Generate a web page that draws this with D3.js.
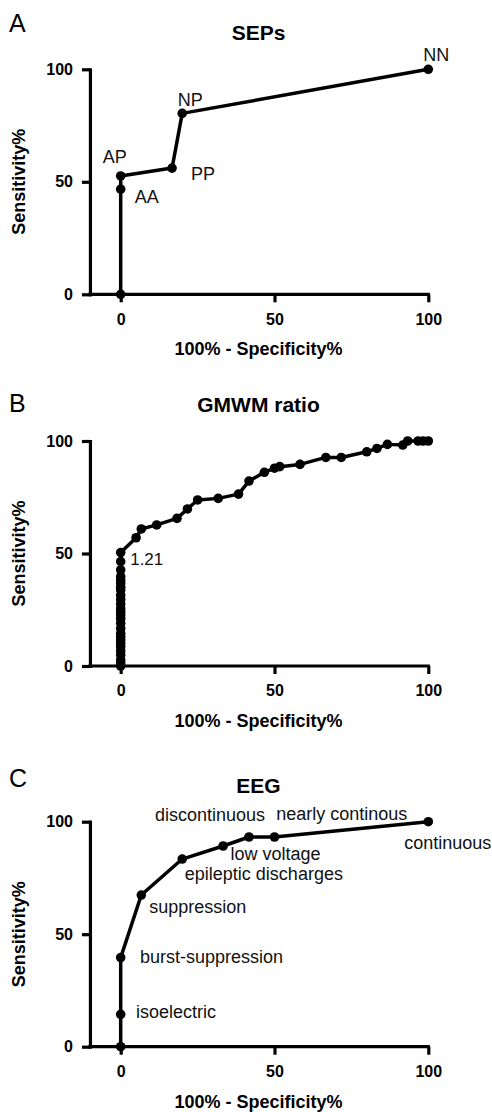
<!DOCTYPE html>
<html>
<head>
<meta charset="utf-8">
<script src="https://cdn.jsdelivr.net/npm/d3@7"></script>
<style>
  html, body { margin: 0; padding: 0; background: #fff; }
  svg { display: block; font-family: "Liberation Sans", Arial, Helvetica, sans-serif; }
</style>
</head>
<body>
<svg id="chart" width="492" height="1112"></svg>
<script>
// ---------- data ----------
const xTicks = [0, 50, 100];
const yTicks = [0, 50, 100];

const sepsX = [0, 0, 0, 16.7, 20, 100];
const sepsY = [0, 46.7, 52.6, 56.1, 80.4, 100];
const sepsLabels = ["", "AA", "AP", "PP", "NP", "NN"];

const gmwmX = [0, 0, 0, 0, 0, 0, 0, 0, 0, 0, 0, 0, 0, 0, 0, 0, 0, 0, 0, 0, 0, 0, 0, 0, 0, 0, 0,
  5.0, 6.7, 11.7, 18.3, 21.7, 25.0, 31.7, 38.3, 41.7, 46.7, 50.0, 51.7,
  58.3, 66.7, 71.7, 80.0, 83.3, 86.7, 91.7, 93.3, 96.7, 98.3, 100];
const gmwmY = [0, 1.3, 2.7, 4.9, 6.7, 8.6, 10.0, 11.6, 13.0, 14.5, 16.7, 19.0, 21.0, 22.7, 24.0, 25.6,
  27.6, 29.6, 31.5, 33.8, 35.0, 36.7, 38.0, 39.7, 42.7, 46.4, 50.4,
  57.0, 60.9, 62.7, 65.6, 69.8, 73.8, 74.5, 76.4, 82.2, 86.1, 87.9, 88.6,
  89.6, 92.7, 92.7, 95.2, 96.7, 98.5, 98.2, 100, 100, 100, 100];
const gmwmLabel = "1.21";
const gmwmLabelIndex = 26;

const eegX = [0, 0, 0, 6.7, 20, 33.3, 41.7, 50, 100];
const eegY = [0, 14.4, 39.6, 67.4, 83.4, 89.2, 93.2, 93.2, 100];
const eegLabels = ["", "isoelectric", "burst-suppression", "suppression", "epileptic discharges",
  "low voltage", "discontinuous", "nearly continous", "continuous"];

// ---------- layout (positions / styles, not data) ----------
const gmwmLabels = gmwmX.map((_, i) => i === gmwmLabelIndex ? gmwmLabel : "");
const panels = [
  { letter: "A", title: "SEPs", xs: sepsX, ys: sepsY, labels: sepsLabels,
    y0: 294.3, y100: 69.3, letterY: 31.7, titleY: 40,
    labelPos: [null, [26, 14, "middle"], [-6, -13, "middle"], [31, 12, "middle"], [8, -7, "middle"], [8, -8, "middle"]],
    labelSize: 18 },
  { letter: "B", title: "GMWM ratio", xs: gmwmX, ys: gmwmY, labels: gmwmLabels,
    y0: 666, y100: 441, letterY: 411.7, titleY: 411.7,
    labelPos: gmwmLabels.map(l => l ? [9.5, 12.5, "start"] : null),
    labelSize: 17 },
  { letter: "C", title: "EEG", xs: eegX, ys: eegY, labels: eegLabels,
    y0: 1046.7, y100: 821.7, letterY: 786.7, titleY: 793.3,
    labelPos: [null, [15.3, 3.7, "start"], [19.3, 5.5, "start"], [8, 17.5, "start"],
      [2.6, 20.5, "start"], [7.3, 14, "start"], [16, -16, "end"], [1.7, -17.5, "start"], [-24, 27.6, "start"]],
    labelSize: 18 }
];

const svg = d3.select("#chart");
svg.append("rect").attr("width", 492).attr("height", 1112).attr("fill", "#fff");

const x = d3.scaleLinear().domain([0, 100]).range([120.7, 428.3]);
const axisX = x(-10);

panels.forEach(p => {
  const y = d3.scaleLinear().domain([0, 100]).range([p.y0, p.y100]);
  const g = svg.append("g");

  g.append("text").attr("x", 9).attr("y", p.letterY)
    .attr("font-size", 25).attr("fill", "#000").text(p.letter);

  g.append("text").attr("x", 258.5).attr("y", p.titleY)
    .attr("text-anchor", "middle").attr("font-size", 21).attr("font-weight", "bold")
    .attr("fill", "#000").text(p.title);

  const xa = g.append("g").attr("transform", `translate(0,${y(0)})`)
    .call(d3.axisBottom(x).tickValues(xTicks).tickSize(8).tickSizeOuter(0).tickPadding(11));
  xa.select(".domain").attr("d", `M${axisX},0H${x(100)}`)
    .attr("stroke", "#000").attr("stroke-width", 3.2).attr("stroke-linecap", "square");
  xa.selectAll(".tick line").attr("stroke", "#000").attr("stroke-width", 3.2);
  xa.selectAll(".tick text").attr("font-size", 16).attr("font-weight", "bold")
    .attr("font-family", "Liberation Sans, Arial, sans-serif").attr("fill", "#000");

  const ya = g.append("g").attr("transform", `translate(${axisX},0)`)
    .call(d3.axisLeft(y).tickValues(yTicks).tickSize(8).tickSizeOuter(0).tickPadding(9));
  ya.select(".domain").attr("stroke", "#000").attr("stroke-width", 3.2).attr("stroke-linecap", "square");
  ya.selectAll(".tick line").attr("stroke", "#000").attr("stroke-width", 3.2);
  ya.selectAll(".tick text").attr("font-size", 16).attr("font-weight", "bold")
    .attr("font-family", "Liberation Sans, Arial, sans-serif").attr("fill", "#000");

  g.append("text").attr("x", 258.5).attr("y", y(0) + 61)
    .attr("text-anchor", "middle").attr("font-size", 18).attr("font-weight", "bold")
    .attr("fill", "#000").text("100% - Specificity%");
  g.append("text")
    .attr("transform", `translate(24.5,${(y(0) + y(100)) / 2}) rotate(-90)`)
    .attr("text-anchor", "middle").attr("font-size", 18).attr("font-weight", "bold")
    .attr("fill", "#000").text("Sensitivity%");

  const pts = p.xs.map((v, i) => ({ x: v, y: p.ys[i], label: p.labels[i], pos: p.labelPos[i] }));
  g.append("path").datum(pts)
    .attr("d", d3.line().x(d => x(d.x)).y(d => y(d.y)))
    .attr("fill", "none").attr("stroke", "#000").attr("stroke-width", 3.5)
    .attr("stroke-linejoin", "round");
  g.selectAll("circle.pt").data(pts).enter().append("circle")
    .attr("class", "pt")
    .attr("cx", d => x(d.x)).attr("cy", d => y(d.y)).attr("r", 4.8).attr("fill", "#000");

  g.selectAll("text.lbl").data(pts.filter(d => d.label)).enter().append("text")
    .attr("class", "lbl")
    .attr("x", d => x(d.x) + d.pos[0]).attr("y", d => y(d.y) + d.pos[1])
    .attr("text-anchor", d => d.pos[2])
    .attr("font-size", p.labelSize).attr("fill", "#111").text(d => d.label);
});
</script>
</body>
</html>
